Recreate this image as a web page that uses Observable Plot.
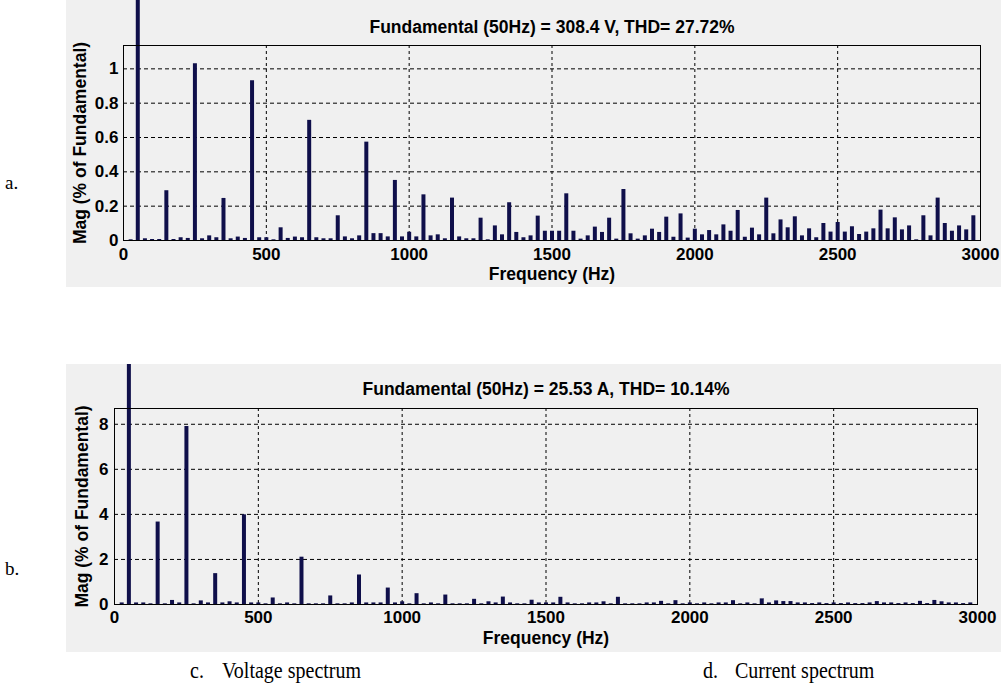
<!DOCTYPE html>
<html>
<head>
<meta charset="utf-8">
<script src="https://cdn.jsdelivr.net/npm/d3@7"></script>
<script src="https://cdn.jsdelivr.net/npm/@observablehq/plot@0.6"></script>
<style>
  html, body { margin: 0; padding: 0; background: #fff; }
  body { width: 1001px; height: 688px; position: relative; overflow: hidden; }
  .panel { position: absolute; left: 66px; }
  .tag { position: absolute; font-family: "Liberation Serif", "Times New Roman", serif; font-size: 19px; line-height: 1; color: #000; white-space: nowrap; }
  .cap { font-size: 20px; transform: scaleY(1.15); transform-origin: left bottom; }
</style>
</head>
<body>
<div id="panelA" class="panel" style="top:0px"></div>
<div id="panelB" class="panel" style="top:364px"></div>
<div class="tag" style="left:5px;top:173px">a.</div>
<div class="tag" style="left:5px;top:559px">b.</div>
<div class="tag cap" style="left:190px;top:661px">c.</div>
<div class="tag cap" style="left:222px;top:661px">Voltage spectrum</div>
<div class="tag cap" style="left:703px;top:661px">d.</div>
<div class="tag cap" style="left:735px;top:661px">Current spectrum</div>
<script>
// FFT bin spacing (Hz): bins run 25, 50, 75 ... 2975 Hz
const binHz = 25;

// Voltage harmonic magnitudes, % of fundamental (the 50 Hz bin is the fundamental itself)
const voltageMag = [
  0.004, 100, 0.01, 0.006, 0.006, 0.29, 0.006, 0.016, 0.012, 1.03,
  0.01, 0.027, 0.016, 0.245, 0.01, 0.02, 0.012, 0.93, 0.016, 0.016,
  0.004, 0.074, 0.012, 0.02, 0.016, 0.70, 0.016, 0.01, 0.01, 0.144,
  0.021, 0.01, 0.027, 0.573, 0.04, 0.04, 0.021, 0.35, 0.021, 0.048,
  0.021, 0.266, 0.027, 0.033, 0.01, 0.247, 0.021, 0.01, 0.01, 0.13,
  0.004, 0.085, 0.033, 0.22, 0.047, 0.016, 0.027, 0.142, 0.054, 0.054,
  0.054, 0.272, 0.054, 0.008, 0.027, 0.078, 0.047, 0.13, 0.008, 0.297,
  0.039, 0.008, 0.027, 0.066, 0.047, 0.136, 0.019, 0.155, 0.014, 0.066,
  0.033, 0.058, 0.033, 0.091, 0.054, 0.175, 0.019, 0.072, 0.033, 0.247,
  0.039, 0.12, 0.074, 0.138, 0.027, 0.068, 0.016, 0.099, 0.049, 0.105,
  0.049, 0.08, 0.035, 0.049, 0.068, 0.177, 0.068, 0.132, 0.062, 0.085,
  0.004, 0.144, 0.027, 0.247, 0.099, 0.054, 0.085, 0.062, 0.144
];

// Current harmonic magnitudes, % of fundamental
const currentMag = [
  0.07, 100, 0.07, 0.07, 0.03, 3.66, 0.03, 0.18, 0.07, 7.9,
  0.03, 0.16, 0.07, 1.37, 0.07, 0.12, 0.07, 3.98, 0.07, 0.07,
  0.03, 0.29, 0.03, 0.07, 0.03, 2.1, 0.03, 0.03, 0.03, 0.38,
  0.03, 0.03, 0.07, 1.31, 0.07, 0.07, 0.07, 0.73, 0.07, 0.12,
  0.03, 0.48, 0.03, 0.07, 0.03, 0.42, 0.03, 0.03, 0.03, 0.23,
  0.03, 0.12, 0.07, 0.33, 0.07, 0.03, 0.03, 0.19, 0.07, 0.07,
  0.07, 0.32, 0.07, 0.03, 0.03, 0.07, 0.07, 0.12, 0.03, 0.32,
  0.03, 0.03, 0.03, 0.07, 0.07, 0.14, 0.03, 0.17, 0.03, 0.07,
  0.03, 0.07, 0.03, 0.07, 0.07, 0.17, 0.03, 0.07, 0.03, 0.25,
  0.07, 0.16, 0.13, 0.13, 0.07, 0.07, 0.04, 0.07, 0.04, 0.07,
  0.04, 0.07, 0.04, 0.04, 0.07, 0.13, 0.07, 0.07, 0.04, 0.07,
  0.04, 0.14, 0.04, 0.18, 0.12, 0.07, 0.07, 0.04, 0.07
];

const xTicks = [0, 500, 1000, 1500, 2000, 2500, 3000];
const voltageTicks = [0, 0.2, 0.4, 0.6, 0.8, 1];
const currentTicks = [0, 2, 4, 6, 8];
const voltageTitle = "Fundamental (50Hz) = 308.4 V, THD= 27.72%";
const currentTitle = "Fundamental (50Hz) = 25.53 A, THD= 10.14%";
const xLabel = "Frequency (Hz)";
const yLabel = "Mag (% of Fundamental)";

const barColor = "#0f0f4a";

function spectrum(opts) {
  const rows = opts.mags.map((v, i) => ({f: (i + 1) * binHz, v}));
  const svg = Plot.plot({
    width: opts.width,
    height: opts.height,
    marginLeft: opts.ml, marginRight: opts.mr, marginTop: opts.mt, marginBottom: opts.mb,
    style: "font: bold 17px 'Liberation Sans', Arial, sans-serif; background: #f0f0f0; color: #000; overflow: hidden;",
    x: {domain: [0, 3000]},
    y: {domain: [0, opts.yMax]},
    marks: [
      Plot.gridX(xTicks.filter(t => t > 0 && t < 3000), {stroke: "#000", strokeOpacity: 1, strokeDasharray: "3,3"}),
      Plot.gridY(opts.yTicks.filter(t => t > 0), {stroke: "#000", strokeOpacity: 1, strokeDasharray: "4,3"}),
      Plot.ruleX(rows, {x: "f", y1: 0, y2: "v", stroke: barColor, strokeWidth: 4, ariaLabel: "bars"}),
      Plot.frame({stroke: "#000", strokeWidth: 1}),
      Plot.axisX(xTicks, {tickSize: 0, tickPadding: opts.xPad, tickFormat: d => String(d), label: null, fontWeight: "bold"}),
      Plot.axisY(opts.yTicks, {tickSize: 0, tickPadding: opts.yPad, tickFormat: d => String(d), label: null, fontWeight: "bold"}),
      Plot.text([opts.title], {frameAnchor: "top", dy: opts.titleDy, lineAnchor: "middle", textAnchor: "middle", fontWeight: "bold", fontSize: 17.5}),
      Plot.text([xLabel], {frameAnchor: "bottom", dy: opts.xLabelDy, lineAnchor: "middle", textAnchor: "middle", fontWeight: "bold", fontSize: 17.5}),
      Plot.text([yLabel], {frameAnchor: "left", dx: opts.yLabelDx, rotate: -90, lineAnchor: "middle", textAnchor: "middle", fontWeight: "bold", fontSize: 17.5})
    ]
  });
  // the fundamental bar runs past the plot box up to near the panel top
  const id = "clip-" + opts.name;
  const root = d3.select(svg);
  root.append("defs").append("clipPath").attr("id", id)
    .append("rect").attr("x", 0).attr("y", opts.clipTop)
    .attr("width", opts.width).attr("height", opts.height - opts.clipTop);
  root.selectAll("g[aria-label='bars']").attr("clip-path", `url(#${id})`);
  document.getElementById(opts.el).appendChild(svg);
}

spectrum({
  name: "voltage", el: "panelA", mags: voltageMag, yMax: 1.136, yTicks: voltageTicks,
  title: voltageTitle, width: 935, height: 287,
  ml: 57, mr: 21, mt: 45, mb: 47, xPad: 7, yPad: 5,
  titleDy: -18, xLabelDy: 34, yLabelDx: -43, clipTop: 7
});

spectrum({
  name: "current", el: "panelB", mags: currentMag, yMax: 8.7, yTicks: currentTicks,
  title: currentTitle, width: 935, height: 288,
  ml: 48, mr: 24, mt: 44, mb: 48, xPad: 6, yPad: 6,
  titleDy: -19, xLabelDy: 34, yLabelDx: -32, clipTop: 6
});
</script>
</body>
</html>
